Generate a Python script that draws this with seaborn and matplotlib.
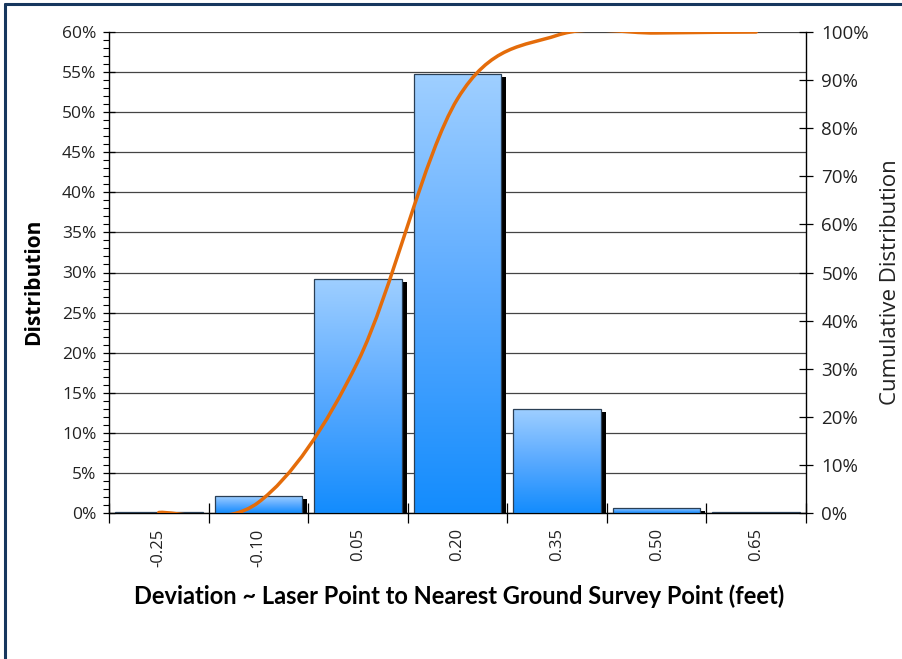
import matplotlib
matplotlib.use("Agg")
import matplotlib.pyplot as plt
import matplotlib.transforms as mtransforms
from matplotlib.lines import Line2D
from matplotlib.patches import Rectangle, PathPatch
from matplotlib.path import Path
from matplotlib.colors import LinearSegmentedColormap
from matplotlib.ticker import MultipleLocator, FixedLocator, PercentFormatter
import numpy as np
import pandas as pd
import seaborn as sns

# values
deviation_labels = ["-0.25", "-0.10", "0.05", "0.20", "0.35", "0.50", "0.65"]
distribution_pct = [0.1, 2.1, 29.2, 54.7, 13.0, 0.6, 0.1]
cumulative_pct = [0.1, 2.2, 31.5, 86.1, 99.3, 99.8, 100.0]

sns.set_theme(style="white")
plt.rcParams["font.family"] = ["Open Sans", "DejaVu Sans"]

fig = plt.figure(figsize=(9.02, 6.59), dpi=100)
ax = fig.add_axes([109 / 902, 146 / 659, 697 / 902, 481 / 659])

frame = pd.DataFrame({"deviation": deviation_labels, "distribution": distribution_pct})
sns.barplot(data=frame, x="deviation", y="distribution", order=deviation_labels,
            width=0.88, color="#3399ff", edgecolor="#2a3f55", linewidth=0.9,
            ax=ax, zorder=3)

ax.set_xlim(-0.5, len(deviation_labels) - 0.5)
ax.set_ylim(0, 60)

# gradient fill and drop shadow for each bar
grad_cmap = LinearSegmentedColormap.from_list("bar", ["#138cfd", "#5aaaff", "#9fcfff"])
gradient = np.linspace(0, 1, 256).reshape(-1, 1)
shadow_offset = mtransforms.ScaledTranslation(5 / 100, -3 / 100, fig.dpi_scale_trans)
for bar in list(ax.patches):
    x0, w, h = bar.get_x(), bar.get_width(), bar.get_height()
    shadow = Rectangle((x0, 0), w, h, facecolor="black", edgecolor="none",
                       transform=ax.transData + shadow_offset, zorder=2.6)
    ax.add_patch(shadow)
    img = ax.imshow(gradient, cmap=grad_cmap, origin="lower", aspect="auto",
                    extent=(x0, x0 + w, 0, h), zorder=3, interpolation="bilinear")
    img.set_clip_path(bar)
    bar.set_facecolor("none")
    bar.set_zorder(3.2)

ax.set_xlim(-0.5, len(deviation_labels) - 0.5)
ax.set_ylim(0, 60)

ax.set_axisbelow(True)
ax.yaxis.grid(True, color="#444444", linewidth=0.9)
ax.xaxis.grid(False)
ax.yaxis.set_major_locator(MultipleLocator(5))
ax.yaxis.set_minor_locator(MultipleLocator(1))
ax.yaxis.set_major_formatter(PercentFormatter(decimals=0))
ax.xaxis.set_minor_locator(FixedLocator(np.arange(-0.5, len(deviation_labels), 1.0)))
ax.tick_params(axis="y", which="major", direction="inout", length=8, width=0.9,
               color="black", labelsize=12.5, pad=5, left=True, labelcolor="#222222")
ax.tick_params(axis="y", which="minor", direction="out", length=4, width=0.8,
               color="black", left=True)
ax.tick_params(axis="x", which="major", length=0, labelsize=12, pad=11,
               labelrotation=90, labelcolor="#222222")
ax.tick_params(axis="x", which="minor", direction="inout", length=14, width=0.9,
               color="black", bottom=True)
for side in ["left", "bottom"]:
    ax.spines[side].set_color("black")
    ax.spines[side].set_linewidth(1.0)
ax.spines["top"].set_visible(False)
ax.spines["right"].set_visible(False)

ax.set_xlabel("Deviation ~ Laser Point to Nearest Ground Survey Point (feet)",
              fontsize=17, fontweight="bold", color="black", family=["Lato", "DejaVu Sans"])
ax.xaxis.set_label_coords(0.502, -0.148)
ax.set_ylabel("Distribution", fontsize=15, fontweight="bold", color="black")
ax.yaxis.set_label_coords(-0.093, 0.48)

# cumulative curve on the secondary axis (smoothed like Excel)
ax2 = ax.twinx()
ax2.set_ylim(0, 100)
ax2.yaxis.set_major_locator(MultipleLocator(10))
ax2.yaxis.set_major_formatter(PercentFormatter(decimals=0))
ax2.tick_params(axis="y", which="major", direction="inout", length=10, width=0.9,
                color="black", labelsize=13.5, pad=6, right=True, labelcolor="#222222")
ax2.grid(False)
for side in ["left", "top", "bottom"]:
    ax2.spines[side].set_visible(False)
ax2.spines["right"].set_color("black")
ax2.spines["right"].set_linewidth(1.0)
ax2.patch.set_visible(False)

pts = np.column_stack([np.arange(len(cumulative_pct)), cumulative_pct]).astype(float)
n = len(pts)
verts = [pts[0]]
codes = [Path.MOVETO]
for i in range(n - 1):
    p_prev = pts[max(i - 1, 0)]
    p_next = pts[min(i + 2, n - 1)]
    c1 = pts[i] + (pts[i + 1] - p_prev) / 6
    c2 = pts[i + 1] - (p_next - pts[i]) / 6
    verts += [c1, c2, pts[i + 1]]
    codes += [Path.CURVE4] * 3
curve = PathPatch(Path(verts, codes), fill=False, edgecolor="#e46c0a",
                  linewidth=2.5, capstyle="round", zorder=5)
ax2.add_patch(curve)

ax2.set_ylabel("Cumulative Distribution", fontsize=16, color="#222222")
ax2.yaxis.set_label_coords(1.106, 0.48)

# outer frame remnants (left and top)
fig.add_artist(Line2D([5 / 902, 5 / 902], [0, 1 - 4 / 659], transform=fig.transFigure,
                      color="#17375e", linewidth=2.2))
fig.add_artist(Line2D([5 / 902, 1], [1 - 4 / 659, 1 - 4 / 659], transform=fig.transFigure,
                      color="#17375e", linewidth=2.2))

fig.savefig("out.png", dpi=100)
